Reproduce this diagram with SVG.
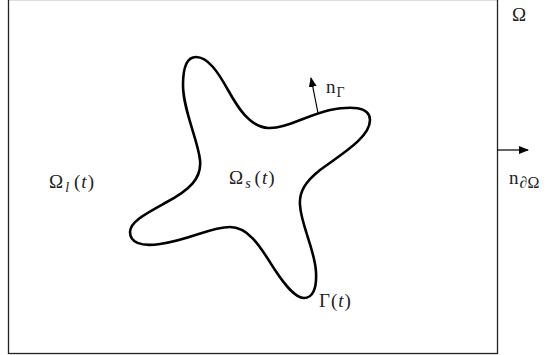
<svg xmlns="http://www.w3.org/2000/svg" width="555" height="355" viewBox="0 0 555 355">
<style>
.lbl{font-family:"Liberation Serif","DejaVu Serif",serif;font-size:19px;fill:#222}
.it{font-style:italic}
.sub{font-size:14px}
.edge{stroke:#000;stroke-width:1.2;fill:none}
</style>
<defs>
<marker id="ah" viewBox="0 0 10 8" refX="9" refY="4" markerWidth="10" markerHeight="8" markerUnits="userSpaceOnUse" orient="auto">
<path d="M0,0 L10,4 L0,8 Z" fill="#000"/>
</marker>
</defs>
<rect width="555" height="355" fill="#fff"/>
<g id="domain">
<rect x="8.5" y="-0.5" width="489" height="354" fill="none" stroke="#222" stroke-width="1.3"/>
<text class="lbl" x="512" y="21">Ω</text>
</g>
<g id="solid">
<path d="M196,57 C208,57 218,72 228,90 C238,108 250,127 268,128 C285,129 305,116 330,110 C350,106 370,106 370,120 C370,138 340,155 320,170 C305,182 299,192 300,205 C301,225 315,250 316,272 C317,290 312,298 304,298 C295,298 285,285 275,270 C262,250 250,227 230,227 C210,227 190,240 160,244 C140,247 130,242 130,232 C130,222 145,214 165,203 C190,190 202,178 200,160 C198,140 183,110 183,85 C183,68 187,57 196,57 Z" fill="none" stroke="#000" stroke-width="2.6"/>
<text class="lbl" x="229" y="184" letter-spacing="1">Ω<tspan class="it sub" dy="4" dx="1">s</tspan><tspan dy="-4" dx="3">(</tspan><tspan class="it">t</tspan>)</text>
</g>
<g id="liquid">
<text class="lbl" x="49" y="188" letter-spacing="1">Ω<tspan class="it sub" dy="4" dx="1">l</tspan><tspan dy="-4" dx="4">(</tspan><tspan class="it">t</tspan>)</text>
</g>
<g id="interface">
<text class="lbl" x="319" y="307" letter-spacing="1">Γ(<tspan class="it">t</tspan>)</text>
<text class="lbl" x="326" y="93">n<tspan class="sub" dy="4" dx="1">Γ</tspan></text>
</g>
<g id="boundary-normal">
<text class="lbl" x="509" y="184">n<tspan class="it" font-size="16" dy="4" dx="1">∂</tspan><tspan font-size="16">Ω</tspan></text>
</g>
<g id="connectors">
<line class="edge" x1="318" y1="113" x2="311" y2="78" marker-end="url(#ah)"/>
<line class="edge" x1="497" y1="150" x2="528" y2="150" marker-end="url(#ah)"/>
</g>
</svg>
